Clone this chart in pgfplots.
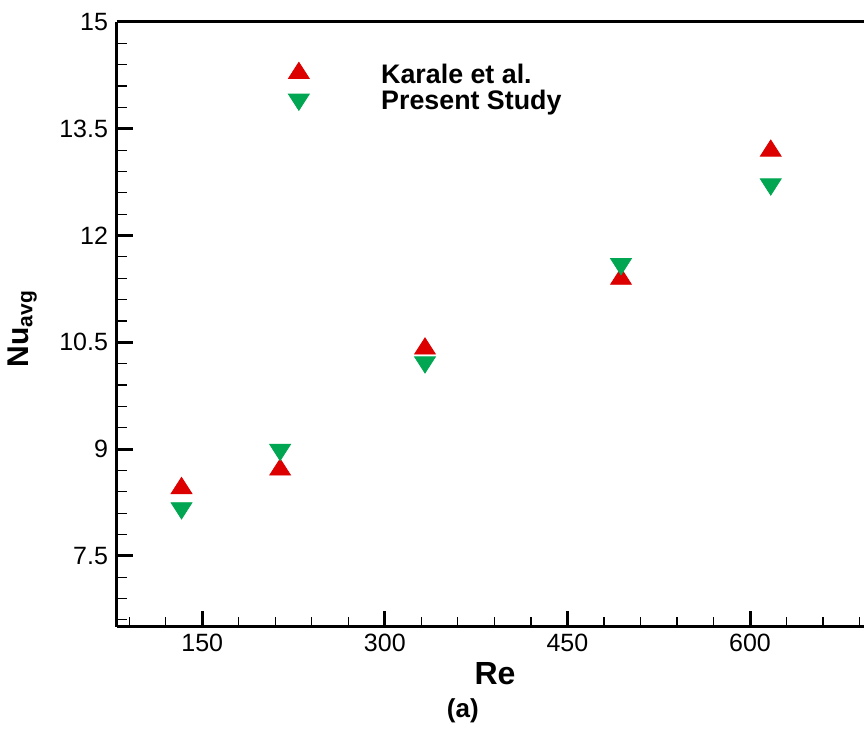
\documentclass[border=0pt]{standalone}
\usepackage{fontspec}
\setmainfont{Liberation Sans}
\usepackage{pgfplots}
\pgfplotsset{compat=1.18}
\definecolor{kred}{RGB}{220,0,0}
\definecolor{pgreen}{RGB}{0,166,81}

\begin{document}
\begin{tikzpicture}
\begin{axis}[
  scale only axis,
  width=373.5pt, height=302.5pt,
  xmin=80, xmax=693.6, ymin=6.5, ymax=15,
  axis x line*=box, axis y line*=left,
  x axis line style={-}, y axis line style={-},
  axis line style={line width=1.5pt},
  xtick pos=left, ytick pos=left,
  tick align=inside,
  xtick={150,300,450,600},
  ytick={7.5,9,10.5,12,13.5,15},
  minor xtick={90,120,...,690},
  minor ytick={6.6,6.9,7.2,7.8,8.1,8.4,8.7,9.3,9.6,9.9,10.2,10.8,11.1,11.4,11.7,12.3,12.6,12.9,13.2,13.8,14.1,14.4,14.7},
  major tick length=8pt, minor tick length=5pt,
  major tick style={line width=1.5pt, black},
  minor tick style={line width=0.6pt, black},
  /pgf/number format/assume math mode=true,
  ticklabel style={font=\fontsize{12.5}{14}\selectfont},
  yticklabel style={xshift=-1pt},
  xlabel={\textbf{Re}},
  xlabel style={font=\fontsize{16}{18}\selectfont, at={(axis description cs:0.506,0)}, anchor=base, yshift=-29pt},
  ylabel={\textbf{Nu\textsubscript{avg}}},
  ylabel style={font=\fontsize{15}{18}\selectfont, at={(axis description cs:-0.119,0.493)}, anchor=base},
  legend image code/.code={\draw[mark repeat=2,mark phase=2,#1] plot coordinates {(0pt,2pt) (20pt,2pt) (40pt,2pt)};},
  legend style={at={(rel axis cs:0.229,0.934)}, anchor=north west, draw=none, fill=none,
    inner sep=0pt, font=\bfseries\fontsize{13.4}{15}\selectfont,
    nodes={inner sep=0pt, text height=9pt, text depth=3pt}, row sep=1.2pt,
    /tikz/every odd column/.append style={column sep=36pt}},
  legend cell align=left,
]
\addplot[only marks, mark=triangle*, mark size=6pt, color=kred, mark options={yscale=0.9}]
  coordinates {(133,8.45) (214,8.71) (333,10.41) (494,11.39) (617,13.19)};
\addlegendentry{Karale et al.}
\addplot[only marks, mark=triangle*, mark size=6pt, color=pgreen, mark options={yscale=0.9, rotate=180}]
  coordinates {(133,8.17) (214,8.99) (333,10.22) (494,11.60) (617,12.72)};
\addlegendentry{Present Study}
\end{axis}
\node[font=\bfseries\fontsize{13}{15}\selectfont, anchor=base] at ([xshift=172.9pt,yshift=-45.5pt]current axis.south west) {(a)};
\pgfresetboundingbox
\path ([xshift=-58.5pt,yshift=-51pt]current axis.south west) rectangle ([yshift=11pt]current axis.north east);
\end{tikzpicture}
\end{document}
